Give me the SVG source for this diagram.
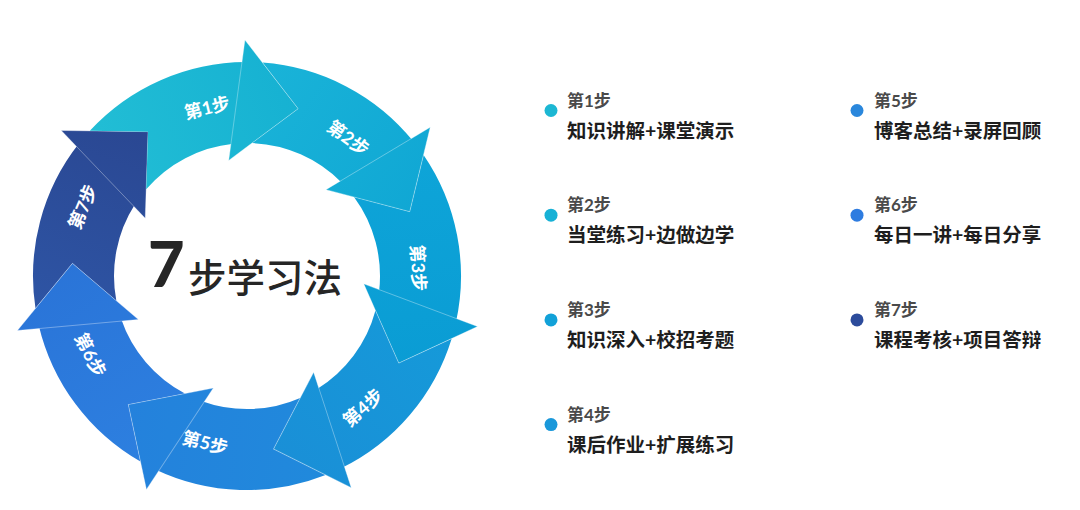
<svg xmlns="http://www.w3.org/2000/svg" xmlns:xlink="http://www.w3.org/1999/xlink" width="1080" height="510" viewBox="0 0 1080 510">
<style>
.lbl{font-family:Lato,"Noto Sans CJK SC",sans-serif;font-size:18px;font-weight:700;fill:#ffffff;text-anchor:middle}
.head{stroke:#ffffff;stroke-opacity:0.35;stroke-width:0.9}
.t{font-family:Lato,"Noto Sans CJK SC",sans-serif;font-size:17px;font-weight:700;fill:#4a4a4a}
.d{font-family:Lato,"Noto Sans CJK SC",sans-serif;font-size:19.5px;font-weight:700;fill:#1e1e1e}
.big7{font-family:Lato,"Liberation Sans",sans-serif;font-size:63px;font-weight:900;fill:#262626}
.bigcn{font-family:"Noto Sans CJK SC",sans-serif;font-size:38.5px;font-weight:500;fill:#262626}
</style>
<defs>
<path id="body" d="M89.82,130.78 A214,214 0 0 1 245.69,62.0 L233.23,143.71 A133,133 0 0 0 146.19,189.26 L148.05,131.66 Z"/>
<path id="head" d="M244.94,40.01 L298.16,108.65 L228.70,160.44 Z"/>
<linearGradient id="g1" gradientUnits="userSpaceOnUse" x1="90" y1="160" x2="298" y2="90"><stop offset="0" stop-color="#22bed5"/><stop offset="1" stop-color="#16b1d2"/></linearGradient>
<linearGradient id="g2" gradientUnits="userSpaceOnUse" x1="90" y1="160" x2="298" y2="90"><stop offset="0" stop-color="#1ab4d8"/><stop offset="1" stop-color="#10a7d4"/></linearGradient>
<linearGradient id="g3" gradientUnits="userSpaceOnUse" x1="90" y1="160" x2="298" y2="90"><stop offset="0" stop-color="#0ea5d8"/><stop offset="1" stop-color="#0a9cd4"/></linearGradient>
<linearGradient id="g4" gradientUnits="userSpaceOnUse" x1="90" y1="160" x2="298" y2="90"><stop offset="0" stop-color="#159ad9"/><stop offset="1" stop-color="#1a8fd7"/></linearGradient>
<linearGradient id="g5" gradientUnits="userSpaceOnUse" x1="90" y1="160" x2="298" y2="90"><stop offset="0" stop-color="#208adc"/><stop offset="1" stop-color="#2481dc"/></linearGradient>
<linearGradient id="g6" gradientUnits="userSpaceOnUse" x1="90" y1="160" x2="298" y2="90"><stop offset="0" stop-color="#2d80e0"/><stop offset="1" stop-color="#2a74d8"/></linearGradient>
<linearGradient id="g7" gradientUnits="userSpaceOnUse" x1="90" y1="160" x2="298" y2="90"><stop offset="0" stop-color="#2e55a5"/><stop offset="1" stop-color="#2a4792"/></linearGradient>
</defs>
<rect width="1080" height="510" fill="#ffffff"/>

<g id="step7">
<g transform="rotate(308.5714 247 276)"><use xlink:href="#body" fill="url(#g7)"/><use xlink:href="#head" class="head" fill="url(#g7)"/></g>
<text class="lbl" transform="translate(83 207) rotate(-67.2)" dy="0.35em">第7步</text>
</g>
<g id="step6">
<g transform="rotate(257.1429 247 276)"><use xlink:href="#body" fill="url(#g6)"/><use xlink:href="#head" class="head" fill="url(#g6)"/></g>
<text class="lbl" transform="translate(90 355) rotate(63.3)" dy="0.35em">第6步</text>
</g>
<g id="step5">
<g transform="rotate(205.7143 247 276)"><use xlink:href="#body" fill="url(#g5)"/><use xlink:href="#head" class="head" fill="url(#g5)"/></g>
<text class="lbl" transform="translate(205 443) rotate(14.1)" dy="0.35em">第5步</text>
</g>
<g id="step4">
<g transform="rotate(154.2857 247 276)"><use xlink:href="#body" fill="url(#g4)"/><use xlink:href="#head" class="head" fill="url(#g4)"/></g>
<text class="lbl" transform="translate(363 408) rotate(-41.3)" dy="0.35em">第4步</text>
</g>
<g id="step3">
<g transform="rotate(102.8571 247 276)"><use xlink:href="#body" fill="url(#g3)"/><use xlink:href="#head" class="head" fill="url(#g3)"/></g>
<text class="lbl" transform="translate(418 268) rotate(87.3)" dy="0.35em">第3步</text>
</g>
<g id="step2">
<g transform="rotate(51.4286 247 276)"><use xlink:href="#body" fill="url(#g2)"/><use xlink:href="#head" class="head" fill="url(#g2)"/></g>
<text class="lbl" transform="translate(348 138) rotate(36.2)" dy="0.35em">第2步</text>
</g>
<g id="step1">
<g><use xlink:href="#body" fill="url(#g1)"/><use xlink:href="#head" class="head" fill="url(#g1)"/></g>
<text class="lbl" transform="translate(207 108) rotate(-13.4)" dy="0.35em">第1步</text>
</g>

<g id="title">
<text class="big7" x="148" y="287">7</text>
<text class="bigcn" x="188" y="292">步学习法</text>
</g>

<g id="item1"><circle cx="551" cy="110.5" r="6.5" fill="#1cb7d3"/><text class="t" x="567" y="106.5">第1步</text><text class="d" x="567" y="137.5">知识讲解+课堂演示</text></g>
<g id="item2"><circle cx="551" cy="215.2" r="6.5" fill="#17b1d6"/><text class="t" x="567" y="211.2">第2步</text><text class="d" x="567" y="242.2">当堂练习+边做边学</text></g>
<g id="item3"><circle cx="551" cy="319.9" r="6.5" fill="#12a1d8"/><text class="t" x="567" y="315.9">第3步</text><text class="d" x="567" y="346.9">知识深入+校招考题</text></g>
<g id="item4"><circle cx="551" cy="424.6" r="6.5" fill="#1a98da"/><text class="t" x="567" y="420.6">第4步</text><text class="d" x="567" y="451.6">课后作业+扩展练习</text></g>
<g id="item5"><circle cx="857" cy="110.5" r="6.5" fill="#2a87dc"/><text class="t" x="874" y="106.5">第5步</text><text class="d" x="874" y="137.5">博客总结+录屏回顾</text></g>
<g id="item6"><circle cx="857" cy="215.2" r="6.5" fill="#2e7ce0"/><text class="t" x="874" y="211.2">第6步</text><text class="d" x="874" y="242.2">每日一讲+每日分享</text></g>
<g id="item7"><circle cx="857" cy="319.9" r="6.5" fill="#2c4b9b"/><text class="t" x="874" y="315.9">第7步</text><text class="d" x="874" y="346.9">课程考核+项目答辩</text></g>
</svg>
